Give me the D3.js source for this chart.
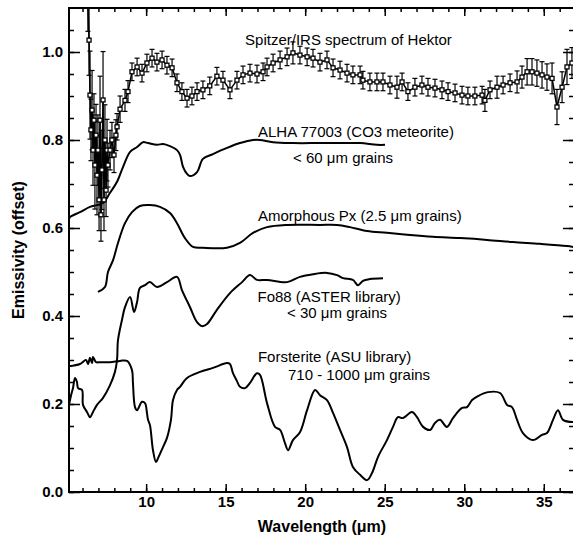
<!DOCTYPE html>
<html>
<head>
<meta charset="utf-8">
<script src="https://cdn.jsdelivr.net/npm/d3@7"></script>
<style>
    body { margin: 0; background: #fff; }
    svg text { font-family: "Liberation Sans", Arial, Helvetica, sans-serif; fill: #000; }
</style>
</head>
<body>
<svg width="573" height="540"></svg>
<script>
// Spitzer/IRS spectrum of Hektor (wavelength, emissivity, 1-sigma error)
var spitzerWl = [6.34, 6.41, 6.47, 6.53, 6.60, 6.66, 6.72, 6.78, 6.85, 6.91, 6.97, 7.04, 7.10, 7.16, 7.22, 7.29, 7.35, 7.41, 7.48, 7.54,
    7.60, 7.73, 7.85, 7.98, 8.10,
    8.17, 8.36, 8.67, 8.86, 9.11, 9.43, 9.74, 10.05, 10.37, 10.68, 11.0, 11.31, 11.63, 11.94, 12.25, 12.57, 12.88, 13.2, 13.57, 14.0,
    14.45, 14.83, 15.27, 15.71, 16.09, 16.53, 16.97, 17.35, 17.6, 17.98, 18.42, 18.86, 19.23, 19.67, 20.12, 20.49, 20.93, 21.37, 21.75, 22.19,
    22.63, 23.0, 23.45, 23.63, 24.07, 24.51, 24.89, 25.33, 25.77, 26.09, 26.46, 26.9, 27.34, 27.72, 28.16, 28.6, 28.98, 29.42, 29.86, 30.23,
    30.67, 31.12, 31.3, 31.62, 32.06, 32.44, 32.88, 33.32, 33.63, 33.95, 34.26, 34.57, 34.89, 35.2, 35.52, 35.83, 36.15, 36.46, 36.77];
var spitzerEm = [1.107, 1.027, 0.902, 0.823, 0.868, 0.777, 0.845, 0.743, 0.811, 0.72, 0.777, 0.664, 0.845, 0.63, 0.732, 0.891, 0.664, 0.80, 0.686, 0.777,
    0.743, 0.777, 0.80, 0.766, 0.811,
    0.83, 0.87, 0.89, 0.91, 0.955, 0.966, 0.952, 0.975, 0.986, 0.977, 0.982, 0.97, 0.964, 0.93, 0.91, 0.895, 0.90, 0.91, 0.914, 0.923,
    0.945, 0.936, 0.914, 0.936, 0.948, 0.952, 0.95, 0.955, 0.966, 0.975, 0.982, 0.989, 0.998, 0.993, 0.989, 0.986, 0.977, 0.982, 0.964, 0.959,
    0.952, 0.948, 0.948, 0.936, 0.932, 0.932, 0.932, 0.925, 0.92, 0.932, 0.91, 0.92, 0.925, 0.92, 0.918, 0.914, 0.91, 0.907, 0.902, 0.90,
    0.90, 0.902, 0.89, 0.914, 0.92, 0.925, 0.93, 0.932, 0.943, 0.955, 0.955, 0.952, 0.948, 0.943, 0.94, 0.875, 0.92, 0.966, 0.975];
var spitzerErr = [0.06, 0.08, 0.1, 0.07, 0.09, 0.08, 0.06, 0.1, 0.07, 0.09, 0.08, 0.07, 0.1, 0.06, 0.09, 0.11, 0.07, 0.08, 0.06, 0.07,
    0.05, 0.045, 0.04, 0.04, 0.035,
    0.03, 0.03, 0.025, 0.025, 0.02, 0.02, 0.02, 0.02, 0.02, 0.02, 0.02, 0.02, 0.02, 0.02, 0.02, 0.02, 0.02, 0.02, 0.02, 0.02,
    0.02, 0.02, 0.02, 0.02, 0.02, 0.02, 0.02, 0.02, 0.02, 0.02, 0.02, 0.02, 0.025, 0.02, 0.02, 0.02, 0.02, 0.02, 0.02, 0.02,
    0.02, 0.02, 0.02, 0.02, 0.02, 0.02, 0.02, 0.02, 0.025, 0.02, 0.02, 0.02, 0.02, 0.02, 0.02, 0.02, 0.02, 0.02, 0.02, 0.02,
    0.02, 0.02, 0.025, 0.02, 0.025, 0.02, 0.02, 0.025, 0.025, 0.03, 0.03, 0.03, 0.03, 0.03, 0.035, 0.04, 0.035, 0.04, 0.035];

// ALHA 77003 (CO3 meteorite), < 60 um grains
var alhaWl = [5.15, 5.21, 5.84, 6.47, 6.91, 7.29, 7.73, 8.17, 8.55, 8.99, 9.43, 9.80, 10.12, 10.68, 11.06, 11.5, 11.94, 12.13, 12.32, 12.57,
    12.76, 13.2, 13.57, 14.2, 15.08, 15.9, 16.72, 17.16, 17.98, 19.23, 20.93, 22.38, 23.45, 24.51, 25.02];
var alhaEm = [0.62, 0.625, 0.636, 0.648, 0.652, 0.657, 0.68, 0.705, 0.739, 0.773, 0.784, 0.795, 0.793, 0.789, 0.791, 0.786, 0.777, 0.766, 0.739, 0.723,
    0.718, 0.727, 0.757, 0.768, 0.782, 0.793, 0.80, 0.80, 0.795, 0.793, 0.793, 0.793, 0.793, 0.789, 0.789];

// Amorphous Px (2.5 um grains)
var amorphWl = [6.97, 7.41, 7.60, 7.92, 8.23, 8.67, 9.11, 9.61, 10.24, 10.87, 11.5, 11.94, 12.44, 12.95, 13.57, 15.08, 15.9, 16.72, 17.6, 18.86,
    20.93, 22.0, 22.82, 23.89, 25.14, 26.59, 28.03, 29.73, 31.43, 33.06, 34.76, 36.46, 36.84];
var amorphEm = [0.455, 0.466, 0.50, 0.527, 0.566, 0.611, 0.636, 0.65, 0.652, 0.648, 0.634, 0.611, 0.577, 0.557, 0.555, 0.555, 0.566, 0.589, 0.602, 0.607,
    0.607, 0.607, 0.602, 0.593, 0.589, 0.584, 0.58, 0.577, 0.573, 0.568, 0.564, 0.559, 0.557];

// Fo88 (ASTER library), < 30 um grains
var fo88Wl = [5.15, 5.28, 5.40, 5.53, 5.65, 5.72, 5.97, 6.03, 6.28, 6.47, 6.66, 6.91, 7.29, 7.73, 8.04, 8.17, 8.23, 8.48, 8.67, 8.99,
    9.24, 9.43, 9.61, 9.93, 10.24, 10.68, 11.31, 11.94, 12.25, 12.76, 13.2, 13.51, 13.83, 14.45, 15.27, 16.03, 16.53, 16.97, 17.6, 18.86,
    19.67, 20.49, 21.37, 22.0, 22.38, 23.0, 23.32, 23.63, 24.07, 24.89];
var fo88Em = [0.198, 0.22, 0.236, 0.259, 0.25, 0.236, 0.232, 0.198, 0.182, 0.17, 0.182, 0.198, 0.214, 0.243, 0.273, 0.30, 0.345, 0.391, 0.42, 0.443,
    0.409, 0.432, 0.464, 0.47, 0.477, 0.466, 0.477, 0.489, 0.459, 0.42, 0.386, 0.377, 0.382, 0.414, 0.452, 0.477, 0.493, 0.482, 0.482, 0.477,
    0.489, 0.495, 0.498, 0.493, 0.486, 0.482, 0.47, 0.48, 0.484, 0.486];

// Forsterite (ASU library), 710 - 1000 um grains
var forstWl = [5.15, 5.84, 6.22, 6.35, 6.47, 6.60, 6.66, 6.85, 7.10, 7.73, 8.36, 8.80, 9.11, 9.17, 9.30, 9.43, 9.74, 9.93, 10.05, 10.12,
    10.24, 10.43, 10.62, 10.75, 11.06, 11.31, 11.56, 11.69, 11.94, 12.13, 12.57, 13.39, 14.2, 15.08, 15.27, 15.46, 15.71, 15.9, 16.22, 16.53,
    16.97, 17.16, 17.6, 18.1, 18.42, 18.73, 18.92, 19.23, 19.67, 20.12, 20.62, 20.93, 21.37, 21.75, 22.19, 22.63, 23.0, 23.45, 23.89, 24.2,
    24.58, 25.14, 25.52, 25.83, 26.15, 26.71, 27.03, 27.41, 27.85, 28.16, 28.47, 28.91, 29.29, 29.86, 30.17, 30.49, 30.86, 31.49, 32.25, 32.69,
    33.0, 33.32, 33.69, 34.32, 34.89, 35.2, 35.58, 35.89, 36.21, 36.84];
var forstEm = [0.286, 0.291, 0.30, 0.291, 0.305, 0.293, 0.307, 0.295, 0.295, 0.295, 0.298, 0.298, 0.277, 0.248, 0.193, 0.186, 0.205, 0.202, 0.18, 0.164,
    0.152, 0.095, 0.068, 0.077, 0.102, 0.123, 0.164, 0.209, 0.232, 0.239, 0.259, 0.273, 0.282, 0.293, 0.291, 0.27, 0.252, 0.239, 0.236, 0.248,
    0.27, 0.266, 0.202, 0.148, 0.141, 0.111, 0.095, 0.118, 0.136, 0.186, 0.232, 0.22, 0.209, 0.18, 0.141, 0.102, 0.057, 0.039, 0.027, 0.043,
    0.08, 0.118, 0.148, 0.17, 0.168, 0.182, 0.17, 0.148, 0.141, 0.157, 0.164, 0.148, 0.168, 0.191, 0.193, 0.209, 0.218, 0.227, 0.225, 0.198,
    0.193, 0.164, 0.134, 0.118, 0.13, 0.134, 0.164, 0.186, 0.164, 0.159];

var xTicks = [10, 15, 20, 25, 30, 35];
var xMinor = d3.range(6, 37, 1);
var yTicks = [0, 0.2, 0.4, 0.6, 0.8, 1.0];
var yMinor = d3.range(0, 1.1, 0.05);

var svg = d3.select("svg"),
        pLeft = 69, pRight = 574, pTop = 8, pBottom = 492;

var x = d3.scaleLinear().domain([5.15, 36.9]).range([pLeft, pRight]);
var y = d3.scaleLinear().domain([0, 1.1]).range([pBottom, pTop]);

svg.append("clipPath").attr("id", "plot")
        .append("rect").attr("x", pLeft).attr("y", pTop)
        .attr("width", pRight - pLeft).attr("height", pBottom - pTop);

// axes (ticks inward on all four sides)
function styleAxis(g) {
    g.select(".domain").remove();
    g.selectAll(".tick line").attr("stroke", "#000").attr("stroke-width", 1.5);
    g.selectAll(".tick text").style("font-size", "15px").style("font-weight", "bold");
}
svg.append("g").attr("transform", "translate(0," + pBottom + ")")
        .call(d3.axisBottom(x).tickValues(xMinor).tickSize(-4).tickFormat("")).call(styleAxis);
svg.append("g").attr("transform", "translate(0," + pBottom + ")")
        .call(d3.axisBottom(x).tickValues(xTicks).tickSize(-8).tickPadding(4)).call(styleAxis);
svg.append("g").attr("transform", "translate(0," + pTop + ")")
        .call(d3.axisTop(x).tickValues(xMinor).tickSize(-4).tickFormat("")).call(styleAxis);
svg.append("g").attr("transform", "translate(0," + pTop + ")")
        .call(d3.axisTop(x).tickValues(xTicks).tickSize(-8).tickFormat("")).call(styleAxis);
svg.append("g").attr("transform", "translate(" + pLeft + ",0)")
        .call(d3.axisLeft(y).tickValues(yMinor).tickSize(-5).tickFormat("")).call(styleAxis);
svg.append("g").attr("transform", "translate(" + pLeft + ",0)")
        .call(d3.axisLeft(y).tickValues(yTicks).tickSize(-11).tickPadding(6).tickFormat(d3.format(".1f"))).call(styleAxis);
svg.append("g").attr("transform", "translate(" + pRight + ",0)")
        .call(d3.axisRight(y).tickValues(yMinor).tickSize(-5).tickFormat("")).call(styleAxis);
svg.append("g").attr("transform", "translate(" + pRight + ",0)")
        .call(d3.axisRight(y).tickValues(yTicks).tickSize(-11).tickFormat("")).call(styleAxis);

svg.append("rect").attr("x", pLeft).attr("y", pTop)
        .attr("width", pRight - pLeft).attr("height", pBottom - pTop)
        .attr("fill", "none").attr("stroke", "#000").attr("stroke-width", 2);

var plot = svg.append("g").attr("clip-path", "url(#plot)");

// laboratory spectra
var smooth = d3.line()
        .x(function (d) { return x(d[0]); })
        .y(function (d) { return y(d[1]); })
        .curve(d3.curveCatmullRom.alpha(0.5));

[[alhaWl, alhaEm], [amorphWl, amorphEm], [fo88Wl, fo88Em], [forstWl, forstEm]].forEach(function (s) {
    plot.append("path")
            .datum(d3.zip(s[0], s[1]))
            .attr("d", smooth)
            .attr("fill", "none")
            .attr("stroke", "#000")
            .attr("stroke-width", 2)
            .attr("stroke-linejoin", "round");
});

// Spitzer spectrum with error bars
var spec = spitzerWl.map(function (w, i) {
    return {w: w, e: spitzerEm[i], s: spitzerErr[i]};
});

plot.append("path")
        .datum(spec)
        .attr("d", d3.line().x(function (d) { return x(d.w); }).y(function (d) { return y(d.e); }))
        .attr("fill", "none").attr("stroke", "#000").attr("stroke-width", 1.5);

var bars = plot.append("g").attr("stroke", "#000").attr("stroke-width", 1.2);
bars.selectAll(".bar").data(spec).enter().append("line")
        .attr("x1", function (d) { return x(d.w); })
        .attr("x2", function (d) { return x(d.w); })
        .attr("y1", function (d) { return y(d.e - d.s); })
        .attr("y2", function (d) { return y(d.e + d.s); });
bars.selectAll(".capHi").data(spec).enter().append("line")
        .attr("x1", function (d) { return x(d.w) - 2.5; })
        .attr("x2", function (d) { return x(d.w) + 2.5; })
        .attr("y1", function (d) { return y(d.e + d.s); })
        .attr("y2", function (d) { return y(d.e + d.s); });
bars.selectAll(".capLo").data(spec).enter().append("line")
        .attr("x1", function (d) { return x(d.w) - 2.5; })
        .attr("x2", function (d) { return x(d.w) + 2.5; })
        .attr("y1", function (d) { return y(d.e - d.s); })
        .attr("y2", function (d) { return y(d.e - d.s); });
plot.selectAll(".pt").data(spec).enter().append("rect")
        .attr("x", function (d) { return x(d.w) - 2; })
        .attr("y", function (d) { return y(d.e) - 2; })
        .attr("width", 4).attr("height", 4)
        .attr("fill", "#fff").attr("stroke", "#000").attr("stroke-width", 1.3);

// annotations
var notes = svg.append("g").style("font-size", "15px");
function note(t, w, e) {
    notes.append("text").attr("x", x(w)).attr("y", y(e)).text(t);
}
note("Spitzer/IRS spectrum of Hektor", 16.22, 1.016);
note("ALHA 77003 (CO3 meteorite)", 17.03, 0.807);
note("< 60 \u03bcm grains", 19.24, 0.748);
note("Amorphous Px (2.5 \u03bcm grains)", 17.03, 0.616);
note("Fo88 (ASTER library)", 17.0, 0.432);
note("< 30 \u03bcm grains", 18.86, 0.395);
note("Forsterite (ASU library)", 17.03, 0.295);
note("710 - 1000 \u03bcm grains", 18.92, 0.255);

// axis titles
svg.append("text")
        .attr("x", 322).attr("y", 532)
        .attr("text-anchor", "middle")
        .style("font-size", "16px").style("font-weight", "bold")
        .text("Wavelength (\u03bcm)");
svg.append("text")
        .attr("transform", "translate(24,250) rotate(-90)")
        .attr("text-anchor", "middle")
        .style("font-size", "16px").style("font-weight", "bold")
        .text("Emissivity (offset)");
</script>
</body>
</html>
